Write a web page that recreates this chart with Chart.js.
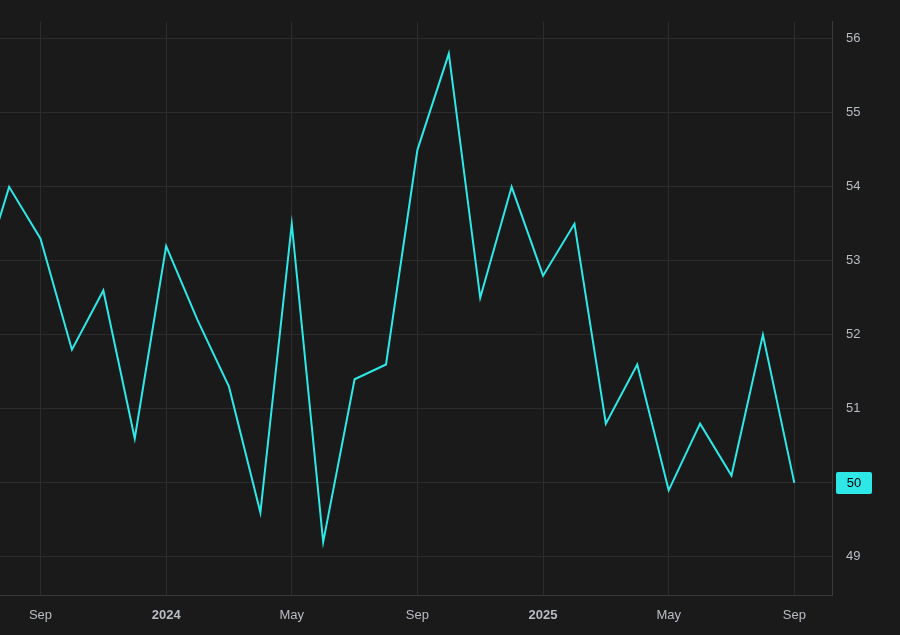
<!DOCTYPE html>
<html>
<head>
<meta charset="UTF-8" />
<script src="https://cdn.jsdelivr.net/npm/chart.js"></script>
<style>
  html, body { margin: 0; padding: 0; background: #1a1a1a; }
  #wrap { width: 900px; height: 635px; position: relative; }
</style>
</head>
<body>
<div id="wrap"><canvas id="c" width="900" height="635"></canvas></div>
<script>
  // monthly values, Jul 2023 .. Sep 2025
  const months = ['Jul','Aug','Sep','Oct','Nov','Dec','Jan','Feb','Mar','Apr','May','Jun',
                  'Jul','Aug','Sep','Oct','Nov','Dec','Jan','Feb','Mar','Apr','May','Jun','Jul','Aug','Sep'];
  const values = [52.6, 54.0, 53.3, 51.8, 52.6, 50.6, 53.2, 52.2, 51.3, 49.6, 53.5, 49.2,
                  51.4, 51.6, 54.5, 55.8, 52.5, 54.0, 52.8, 53.5, 50.8, 51.6, 49.9, 50.8, 50.1, 52.0, 50.0];
  const xTickIdx = [2, 6, 10, 14, 18, 22, 26];
  const xTickLabels = ['Sep', '2024', 'May', 'Sep', '2025', 'May', 'Sep'];
  const yTicks = [49, 50, 51, 52, 53, 54, 55, 56];

  const points = values.map((v, i) => ({ x: i, y: v }));
  const cyan = '#2ee8e8';

  const lastLabel = {
    id: 'lastLabel',
    afterDraw(chart) {
      const ctx = chart.ctx, y = chart.scales.y.getPixelForValue(values[values.length - 1]);
      const x0 = chart.chartArea.right + 4;
      ctx.save();
      ctx.fillStyle = cyan;
      ctx.beginPath();
      ctx.roundRect(x0, y - 11, 36, 22, 2);
      ctx.fill();
      ctx.fillStyle = '#000';
      ctx.font = '13px "Liberation Sans", sans-serif';
      ctx.textAlign = 'center';
      ctx.textBaseline = 'middle';
      ctx.fillText(String(values[values.length - 1]), x0 + 18, y + 1);
      ctx.restore();
    }
  };

  new Chart(document.getElementById('c'), {
    type: 'line',
    data: { datasets: [{ data: points, borderColor: cyan, borderWidth: 2, pointRadius: 0, tension: 0 }] },
    options: {
      responsive: false,
      animation: false,
      layout: { padding: { left: 0, right: 0, top: -22, bottom: 0 } },
      plugins: { legend: { display: false }, tooltip: { enabled: false } },
      scales: {
        x: {
          type: 'linear', min: 0.71, max: 27.2,
          afterBuildTicks: s => { s.ticks = xTickIdx.map(v => ({ value: v })); },
          ticks: {
            color: '#b8bcc4', font: { size: 13, family: '"Liberation Sans", sans-serif',
              weight: c => (c.tick && (c.tick.value === 6 || c.tick.value === 18)) ? 'bold' : 'normal' },
            callback: v => xTickLabels[xTickIdx.indexOf(v)], maxRotation: 0, padding: 12
          },
          grid: { color: '#2c2c2c', drawTicks: false },
          border: { color: '#3a3a3a' }
        },
        y: {
          position: 'right', min: 48.48, max: 56.23,
          afterBuildTicks: s => { s.ticks = yTicks.map(v => ({ value: v })); },
          afterFit: s => { s.width = 68; },
          ticks: { color: '#b8bcc4', font: { size: 13, family: '"Liberation Sans", sans-serif' }, padding: 14 },
          grid: { color: '#2c2c2c', drawTicks: false },
          border: { color: '#3a3a3a' }
        }
      }
    },
    plugins: [lastLabel]
  });
</script>
</body>
</html>
